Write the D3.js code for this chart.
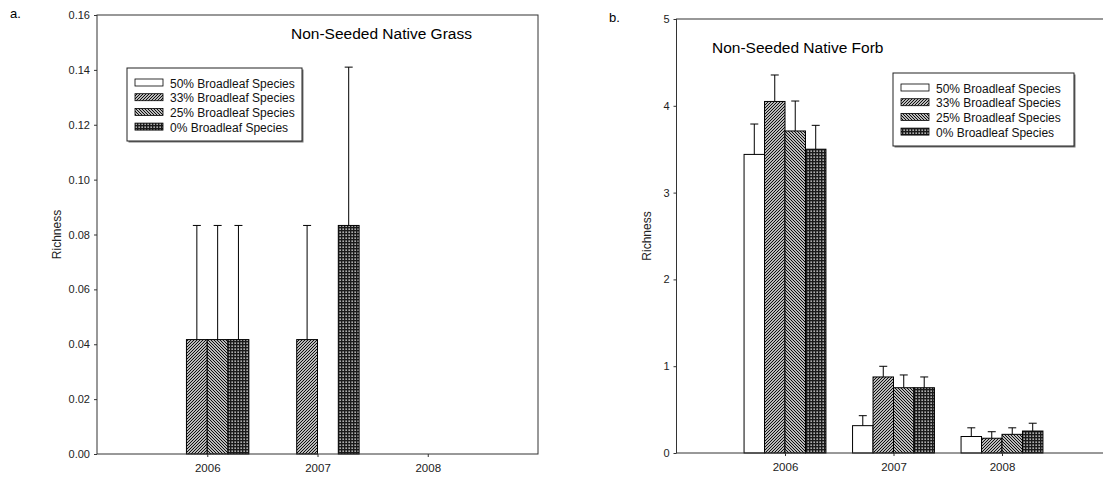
<!DOCTYPE html>
<html><head><meta charset="utf-8">
<script src="https://cdn.jsdelivr.net/npm/d3@7"></script>
<style>html,body{margin:0;padding:0;background:#fff;overflow:hidden}svg{display:block;font-family:"Liberation Sans",Arial,sans-serif}</style>
</head><body>
<svg id="c" width="1103" height="477"></svg>
<script>
// ---- data ----
const years = [2006, 2007, 2008];
const seriesNames = ["50% Broadleaf Species", "33% Broadleaf Species", "25% Broadleaf Species", "0% Broadleaf Species"];
const grassTicks = [0, 0.02, 0.04, 0.06, 0.08, 0.10, 0.12, 0.14, 0.16];
const forbTicks = [0, 1, 2, 3, 4, 5];
// Panel a: Non-Seeded Native Grass (mean, upper SE)
const grass50 = [0, 0, 0];
const grass33 = [0.0417, 0.0417, 0];
const grass25 = [0.0417, 0, 0];
const grass0  = [0.0417, 0.0833, 0];
const grassErr50 = [0, 0, 0];
const grassErr33 = [0.0416, 0.0416, 0];
const grassErr25 = [0.0416, 0, 0];
const grassErr0  = [0.0416, 0.0577, 0];
// Panel b: Non-Seeded Native Forb
const forb50 = [3.44, 0.315, 0.19];
const forb33 = [4.05, 0.876, 0.17];
const forb25 = [3.71, 0.752, 0.215];
const forb0  = [3.50, 0.752, 0.253];
const forbErr50 = [0.35, 0.115, 0.10];
const forbErr33 = [0.305, 0.123, 0.075];
const forbErr25 = [0.345, 0.147, 0.075];
const forbErr0  = [0.275, 0.124, 0.09];

const svg = d3.select("#c");
const defs = svg.append("defs");
function pat(id, w, h, build) {
  const p = defs.append("pattern").attr("id", id).attr("patternUnits", "userSpaceOnUse")
    .attr("width", w).attr("height", h);
  p.append("rect").attr("width", w).attr("height", h).attr("fill", "#fff");
  build(p);
}
pat("p50", 4, 4, p => {});
pat("p33", 3, 3, p => p.append("path").attr("d", "M0,3L3,0M-1,1L1,-1M2,4L4,2").attr("stroke", "#000").attr("stroke-width", 1.05));
pat("p25", 3, 3, p => p.append("path").attr("d", "M0,0L3,3M-1,2L1,4M2,-1L4,1").attr("stroke", "#000").attr("stroke-width", 1.05));
pat("p0", 3, 3, p => {
  p.select("rect").attr("fill", "#1a1a1a");
  p.append("rect").attr("x", 0.5).attr("y", 0.5).attr("width", 1.3).attr("height", 1.3).attr("fill", "#fff");
});
const fills = ["url(#p50)", "url(#p33)", "url(#p25)", "url(#p0)"];

function panel(cfg) {
  const x = d3.scaleLinear().domain([2005, 2009]).range([cfg.x0, cfg.x1]);
  const y = d3.scaleLinear().domain([0, cfg.ymax]).range([cfg.yb, cfg.yt]);
  const g = svg.append("g");
  const bw = x(2005.18868) - x(2005);
  // bars
  cfg.means.forEach((vals, si) => {
    vals.forEach((v, yi) => {
      if (v <= 0) return;
      const xl = x(years[yi]) + (si - 2) * bw;
      g.append("rect").attr("x", xl).attr("y", y(v)).attr("width", bw).attr("height", y(0) - y(v))
        .attr("fill", fills[si]).attr("stroke", "#000").attr("stroke-width", 1);
      const e = cfg.errs[si][yi];
      if (e > 0) {
        const xc = xl + bw / 2;
        g.append("line").attr("x1", xc).attr("x2", xc).attr("y1", y(v)).attr("y2", y(v + e)).attr("stroke", "#000");
        g.append("line").attr("x1", xc - 4).attr("x2", xc + 4).attr("y1", y(v + e)).attr("y2", y(v + e)).attr("stroke", "#000");
      }
    });
  });
  // frame
  g.append("rect").attr("x", cfg.x0).attr("y", cfg.yt).attr("width", cfg.x1 - cfg.x0).attr("height", cfg.yb - cfg.yt)
    .attr("fill", "none").attr("stroke", "#333").attr("stroke-width", 1);
  // axes
  const ya = g.append("g").attr("transform", `translate(${cfg.x0},0)`)
    .call(d3.axisLeft(y).tickValues(cfg.ticks).tickFormat(cfg.fmt).tickSize(3).tickPadding(4));
  ya.select(".domain").remove();
  ya.selectAll("text").attr("font-size", 11).attr("fill", "#222").attr("font-family", "Liberation Sans, Arial, sans-serif");
  ya.selectAll("line").attr("stroke", "#333");
  const xa = g.append("g").attr("transform", `translate(0,${cfg.yb})`)
    .call(d3.axisBottom(x).tickValues(years).tickFormat(d3.format("d")).tickSize(3).tickPadding(7));
  xa.select(".domain").remove();
  xa.selectAll("text").attr("font-size", 11.5).attr("fill", "#222").attr("font-family", "Liberation Sans, Arial, sans-serif");
  xa.selectAll("line").attr("stroke", "#333");
  // labels
  g.append("text").attr("transform", `translate(${cfg.ylabX},${(cfg.yt + cfg.yb) / 2}) rotate(-90)`)
    .attr("text-anchor", "middle").attr("font-size", 12).attr("fill", "#222").text("Richness");
  g.append("text").attr("x", cfg.letterX).attr("y", cfg.letterY).attr("font-size", 13).attr("fill", "#000").text(cfg.letter);
  g.append("text").attr("x", cfg.titleX).attr("y", cfg.titleY).attr("font-size", 15.5).attr("fill", "#000").text(cfg.title);
  // legend
  const L = cfg.legend;
  g.append("rect").attr("x", L.x + 1.5).attr("y", L.y + 1.5).attr("width", L.w).attr("height", L.h).attr("fill", "#777");
  g.append("rect").attr("x", L.x).attr("y", L.y).attr("width", L.w).attr("height", L.h).attr("fill", "#fff").attr("stroke", "#222");
  seriesNames.forEach((n, i) => {
    const ry = L.y + 15 + i * 14.7;
    g.append("rect").attr("x", L.x + 8).attr("y", ry - 4).attr("width", 28).attr("height", 7)
      .attr("fill", fills[i]).attr("stroke", "#000").attr("stroke-width", 0.8);
    g.append("text").attr("x", L.x + 43).attr("y", ry + 4.5).attr("font-size", 12).attr("fill", "#111").text(n);
  });
}

panel({
  x0: 97, x1: 538, yt: 15, yb: 454, ymax: 0.16, ticks: grassTicks, fmt: d3.format(".2f"),
  means: [grass50, grass33, grass25, grass0], errs: [grassErr50, grassErr33, grassErr25, grassErr0],
  ylabX: 61, letter: "a.", letterX: 10, letterY: 18, title: "Non-Seeded Native Grass", titleX: 291, titleY: 39,
  legend: { x: 127, y: 68, w: 175, h: 73 }
});
panel({
  x0: 676.5, x1: 1110.5, yt: 19, yb: 453, ymax: 5, ticks: forbTicks, fmt: d3.format("d"),
  means: [forb50, forb33, forb25, forb0], errs: [forbErr50, forbErr33, forbErr25, forbErr0],
  ylabX: 651, letter: "b.", letterX: 609, letterY: 22, title: "Non-Seeded Native Forb", titleX: 712, titleY: 53,
  legend: { x: 893, y: 73, w: 181, h: 73 }
});
</script>
</body></html>
